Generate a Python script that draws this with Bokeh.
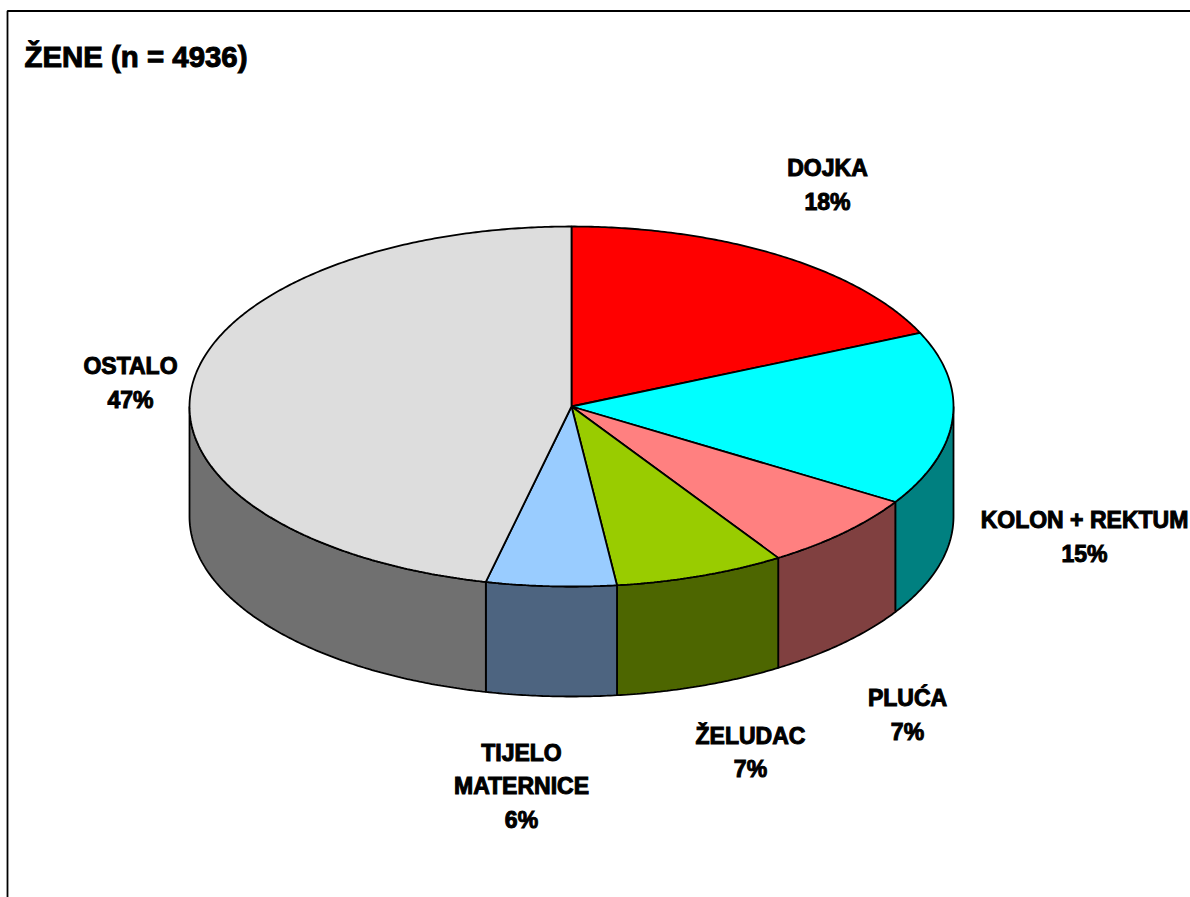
import math
from bokeh.plotting import figure
from bokeh.models import Range1d
from bokeh.core.properties import value
from bokeh.embed import file_html
from bokeh.resources import INLINE

title_text = "ŽENE (n = 4936)"
names = ["DOJKA", "KOLON + REKTUM", "PLUĆA", "ŽELUDAC", "TIJELO\nMATERNICE", "OSTALO"]
percent_labels = ["18%", "15%", "7%", "7%", "6%", "47%"]
shares = [18.3, 15.6, 7.0, 7.2, 5.5, 46.4]
top_colors = ["#FF0000", "#00FFFF", "#FF8080", "#99CC00", "#99CCFF", "#DDDDDD"]
side_colors = ["#800000", "#008080", "#804040", "#4D6600", "#4D6480", "#707070"]

W, H = 1190, 897
CX, CY, RX, RY, DEPTH = 571, 406, 382, 180, 110
label_x = [827, 1084, 907, 750, 521, 130]
label_y = [184.5, 536.5, 714.5, 752, 786, 382.5]


def rim(t0, t1, dy=0.0):
    n = max(2, int(abs(t1 - t0) * 2) + 1)
    ts = [math.radians(t0 + (t1 - t0) * i / (n - 1)) for i in range(n)]
    return ([CX + RX * math.sin(t) for t in ts],
            [CY - RY * math.cos(t) + dy for t in ts])


p = figure(width=W, height=H, x_range=Range1d(0, W), y_range=Range1d(H, 0),
           toolbar_location=None, output_backend="svg", min_border=0,
           outline_line_color=None, background_fill_color="white")
p.axis.visible = False
p.grid.visible = False

# chart frame: only its top and left edges are in the picture
p.line([7, 7, W], [H, 10.5, 10.5], line_color="#000000", line_width=1.8)

starts, acc = [], 0.0
total = sum(shares)
for s in shares:
    starts.append(acc)
    acc += s / total * 360.0
ends = starts[1:] + [360.0]

# walls: only the front half of the rim (90..270 degrees) shows
for a, b, c in zip(starts, ends, side_colors):
    lo, hi = max(a, 90.0), min(b, 270.0)
    if lo >= hi:
        continue
    xt, yt = rim(lo, hi)
    xb, yb = rim(hi, lo, DEPTH)
    p.patch(xt + xb, yt + yb, fill_color=c, line_color="#000000", line_width=1.8)

# top face
for a, b, c in zip(starts, ends, top_colors):
    xt, yt = rim(a, b)
    p.patch([CX] + xt, [CY] + yt, fill_color=c, line_color="#000000", line_width=1.8)

texts = [f"{n}\n{l}" for n, l in zip(names, percent_labels)]
p.text(label_x, label_y, text=texts,
       text_font=value("Liberation Sans"), text_font_style="bold",
       text_font_size="23px", text_align="center", text_baseline="middle",
       text_line_height=1.29, text_color="#000000", text_outline_color="#000000")
p.text([24], [56], text=[title_text],
       text_font=value("Liberation Sans"), text_font_style="bold",
       text_font_size="29.4px", text_align="left", text_baseline="middle",
       text_color="#000000", text_outline_color="#000000")

open("out.html", "w").write(file_html(p, INLINE))
